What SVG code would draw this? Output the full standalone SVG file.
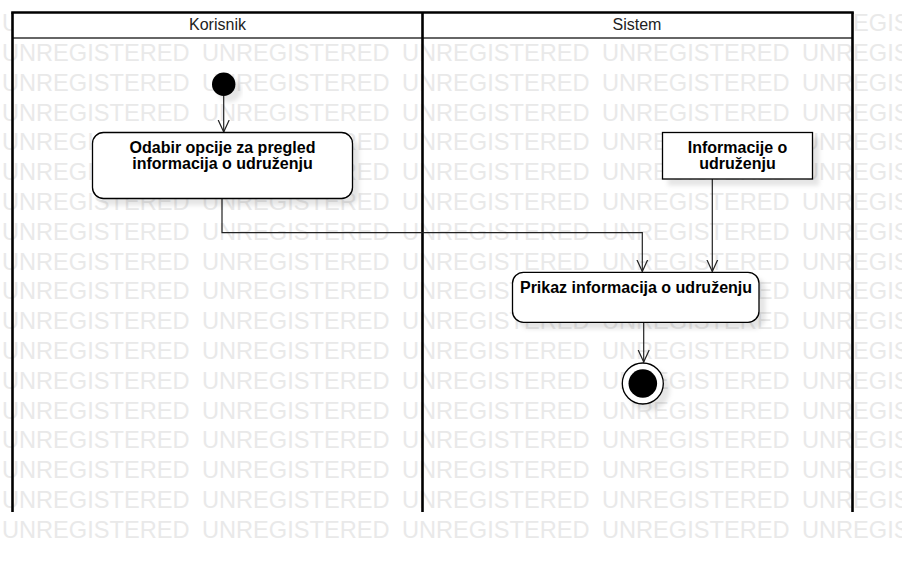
<svg xmlns="http://www.w3.org/2000/svg" width="902" height="562" viewBox="0 0 902 562">
<style>
.wm{font-family:"Liberation Sans",Arial,sans-serif;font-size:23.6px;fill:#e9e9e9}
.hd{font-family:"Liberation Sans",Arial,sans-serif;font-size:16px;fill:#222;text-anchor:middle}
.lb{font-family:"Liberation Sans",Arial,sans-serif;font-size:16px;font-weight:bold;fill:#000;text-anchor:middle}
.node{fill:#fff;stroke:#000;stroke-width:1.3}
.lane{stroke:#000;stroke-width:2.6;fill:none}
.edge{stroke:#222;stroke-width:1.2;fill:none}
</style>
<defs>
<filter id="sh" x="-20%" y="-20%" width="150%" height="160%">
<feDropShadow dx="6" dy="6" stdDeviation="2" flood-color="#000" flood-opacity="0.1"/>
</filter>
<marker id="ah" markerWidth="14" markerHeight="16" refX="12" refY="7" orient="auto" markerUnits="userSpaceOnUse">
<path d="M0,1.5 L12,7 L0,12.5" fill="none" stroke="#222" stroke-width="1.2"/>
</marker>
</defs>
<rect width="902" height="562" fill="#fff"/>
<g id="watermark">
<text class="wm" y="31"><tspan x="2">UNREGISTERED</tspan><tspan x="202">UNREGISTERED</tspan><tspan x="402">UNREGISTERED</tspan><tspan x="602">UNREGISTERED</tspan><tspan x="802">UNREGISTERED</tspan></text>
<text class="wm" y="61"><tspan x="2">UNREGISTERED</tspan><tspan x="202">UNREGISTERED</tspan><tspan x="402">UNREGISTERED</tspan><tspan x="602">UNREGISTERED</tspan><tspan x="802">UNREGISTERED</tspan></text>
<text class="wm" y="90.8"><tspan x="2">UNREGISTERED</tspan><tspan x="202">UNREGISTERED</tspan><tspan x="402">UNREGISTERED</tspan><tspan x="602">UNREGISTERED</tspan><tspan x="802">UNREGISTERED</tspan></text>
<text class="wm" y="120.6"><tspan x="2">UNREGISTERED</tspan><tspan x="202">UNREGISTERED</tspan><tspan x="402">UNREGISTERED</tspan><tspan x="602">UNREGISTERED</tspan><tspan x="802">UNREGISTERED</tspan></text>
<text class="wm" y="150.4"><tspan x="2">UNREGISTERED</tspan><tspan x="202">UNREGISTERED</tspan><tspan x="402">UNREGISTERED</tspan><tspan x="602">UNREGISTERED</tspan><tspan x="802">UNREGISTERED</tspan></text>
<text class="wm" y="180.2"><tspan x="2">UNREGISTERED</tspan><tspan x="202">UNREGISTERED</tspan><tspan x="402">UNREGISTERED</tspan><tspan x="602">UNREGISTERED</tspan><tspan x="802">UNREGISTERED</tspan></text>
<text class="wm" y="210"><tspan x="2">UNREGISTERED</tspan><tspan x="202">UNREGISTERED</tspan><tspan x="402">UNREGISTERED</tspan><tspan x="602">UNREGISTERED</tspan><tspan x="802">UNREGISTERED</tspan></text>
<text class="wm" y="239.8"><tspan x="2">UNREGISTERED</tspan><tspan x="202">UNREGISTERED</tspan><tspan x="402">UNREGISTERED</tspan><tspan x="602">UNREGISTERED</tspan><tspan x="802">UNREGISTERED</tspan></text>
<text class="wm" y="269.6"><tspan x="2">UNREGISTERED</tspan><tspan x="202">UNREGISTERED</tspan><tspan x="402">UNREGISTERED</tspan><tspan x="602">UNREGISTERED</tspan><tspan x="802">UNREGISTERED</tspan></text>
<text class="wm" y="299.4"><tspan x="2">UNREGISTERED</tspan><tspan x="202">UNREGISTERED</tspan><tspan x="402">UNREGISTERED</tspan><tspan x="602">UNREGISTERED</tspan><tspan x="802">UNREGISTERED</tspan></text>
<text class="wm" y="329.2"><tspan x="2">UNREGISTERED</tspan><tspan x="202">UNREGISTERED</tspan><tspan x="402">UNREGISTERED</tspan><tspan x="602">UNREGISTERED</tspan><tspan x="802">UNREGISTERED</tspan></text>
<text class="wm" y="359"><tspan x="2">UNREGISTERED</tspan><tspan x="202">UNREGISTERED</tspan><tspan x="402">UNREGISTERED</tspan><tspan x="602">UNREGISTERED</tspan><tspan x="802">UNREGISTERED</tspan></text>
<text class="wm" y="388.8"><tspan x="2">UNREGISTERED</tspan><tspan x="202">UNREGISTERED</tspan><tspan x="402">UNREGISTERED</tspan><tspan x="602">UNREGISTERED</tspan><tspan x="802">UNREGISTERED</tspan></text>
<text class="wm" y="418.6"><tspan x="2">UNREGISTERED</tspan><tspan x="202">UNREGISTERED</tspan><tspan x="402">UNREGISTERED</tspan><tspan x="602">UNREGISTERED</tspan><tspan x="802">UNREGISTERED</tspan></text>
<text class="wm" y="448.4"><tspan x="2">UNREGISTERED</tspan><tspan x="202">UNREGISTERED</tspan><tspan x="402">UNREGISTERED</tspan><tspan x="602">UNREGISTERED</tspan><tspan x="802">UNREGISTERED</tspan></text>
<text class="wm" y="478.2"><tspan x="2">UNREGISTERED</tspan><tspan x="202">UNREGISTERED</tspan><tspan x="402">UNREGISTERED</tspan><tspan x="602">UNREGISTERED</tspan><tspan x="802">UNREGISTERED</tspan></text>
<text class="wm" y="508"><tspan x="2">UNREGISTERED</tspan><tspan x="202">UNREGISTERED</tspan><tspan x="402">UNREGISTERED</tspan><tspan x="602">UNREGISTERED</tspan><tspan x="802">UNREGISTERED</tspan></text>
<text class="wm" y="537.8"><tspan x="2">UNREGISTERED</tspan><tspan x="202">UNREGISTERED</tspan><tspan x="402">UNREGISTERED</tspan><tspan x="602">UNREGISTERED</tspan><tspan x="802">UNREGISTERED</tspan></text>
</g>
<g id="swimlanes">
<rect x="12.5" y="12.5" width="840" height="25" fill="#fff" stroke="none"/>
<line x1="11.2" y1="12.5" x2="853.8" y2="12.5" class="lane"/>
<line x1="12.5" y1="38" x2="852.5" y2="38" stroke="#333" stroke-width="1.6"/>
<line x1="12.5" y1="12.5" x2="12.5" y2="512" class="lane"/>
<line x1="422.5" y1="12.5" x2="422.5" y2="512" class="lane"/>
<line x1="852.5" y1="12.5" x2="852.5" y2="512" class="lane"/>
<text class="hd" x="217.5" y="30">Korisnik</text>
<text class="hd" x="637" y="30">Sistem</text>
</g>
<g id="connectors">
<line class="edge" x1="223.7" y1="96" x2="223.7" y2="132" marker-end="url(#ah)"/>
<polyline class="edge" points="222,198.5 222,232.7 642.3,232.7 642.3,271.5" marker-end="url(#ah)"/>
<line class="edge" x1="712.3" y1="179" x2="712.3" y2="271.5" marker-end="url(#ah)"/>
<line class="edge" x1="643.7" y1="322.5" x2="643.7" y2="362" marker-end="url(#ah)"/>
</g>
<g id="initial" filter="url(#sh)">
<circle cx="223.7" cy="84.3" r="11.7" fill="#000"/>
</g>
<g id="action-odabir">
<rect class="node" x="92.5" y="132.5" width="260" height="66" rx="11" filter="url(#sh)"/>
<text class="lb" x="222.5" y="153">Odabir opcije za pregled</text>
<text class="lb" x="222.5" y="168.5">informacija o udruženju</text>
</g>
<g id="object-informacije">
<rect class="node" x="662.5" y="132.5" width="150" height="46.5" filter="url(#sh)"/>
<text class="lb" x="737.5" y="153">Informacije o</text>
<text class="lb" x="737.5" y="168.5">udruženju</text>
</g>
<g id="action-prikaz">
<rect class="node" x="512.5" y="272.3" width="246.5" height="50" rx="11" filter="url(#sh)"/>
<text class="lb" x="636" y="293">Prikaz informacija o udruženju</text>
</g>
<g id="final" filter="url(#sh)">
<circle cx="642.8" cy="383.5" r="20.5" fill="#fff" stroke="#000" stroke-width="1.3"/>
<circle cx="642.8" cy="383.5" r="14.3" fill="#000"/>
</g>
</svg>
